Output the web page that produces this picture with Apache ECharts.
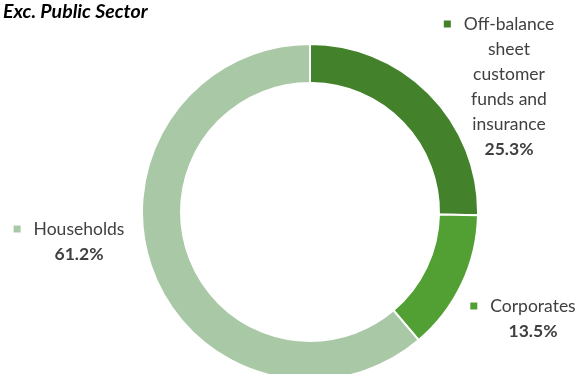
<html>
<head>
  <meta charset="utf-8">
  <script src="https://cdn.jsdelivr.net/npm/echarts@6/dist/echarts.min.js"></script>
  <style>
    html, body { margin: 0; width: 100%; height: 100%; background: #fff; }
    #chart { width: 580px; height: 374px; }
  </style>
</head>
<body>
  <div id="chart"></div>
  <script>
    var titleText = 'Exc. Public Sector';
    var names = ['Off-balance\nsheet\ncustomer\nfunds and\ninsurance', 'Corporates', 'Households'];
    var shares = [25.3, 13.5, 61.2];
    var colors = ['#43822a', '#52a033', '#a9c8a5'];

    // label block centres (layout only)
    var labelPos = [[509, 86.5], [533, 318.5], [79, 241.5]];

    var rich = {
      t: { fontSize: 17.5, lineHeight: 25, color: '#404040', fontFamily: 'Lato' },
      b: { fontSize: 17.5, lineHeight: 25, color: '#404040', fontWeight: 'bold', fontFamily: 'Lato' },
      g: { width: 13, height: 8 },
      g2: { width: 20, height: 8 }
    };
    colors.forEach(function (c, i) {
      rich['sq' + i] = { width: 7, height: 7, backgroundColor: c, verticalAlign: 'middle' };
    });

    var myChart = echarts.init(document.getElementById('chart'));
    var option = {
      animation: false,
      title: {
        text: titleText,
        left: -2, top: -3,
        textStyle: { fontSize: 19.5, fontWeight: 'bold', fontStyle: 'italic', color: '#000', fontFamily: 'Lato' }
      },
      series: [{
        type: 'pie',
        center: [310, 212],
        radius: [129, 168],
        startAngle: 90,
        clockwise: true,
        itemStyle: { borderColor: '#fff', borderWidth: 2 },
        label: {
          show: true,
          position: 'outside',
          align: 'center',
          overflow: 'none',
          width: 200,
          formatter: function (p) {
            var lines = p.name.split('\n');
            var out = '{sq' + p.dataIndex + '|}{g|}{t|' + lines[0] + '}{g2|}';
            for (var i = 1; i < lines.length; i++) out += '\n{t|' + lines[i] + '}';
            out += '\n{b|' + p.value.toFixed(1) + '%}';
            return out;
          },
          rich: rich
        },
        labelLine: { show: false },
        labelLayout: function (params) {
          var pos = labelPos[params.dataIndex];
          return { x: pos[0], y: pos[1], align: 'center', verticalAlign: 'middle' };
        },
        data: names.map(function (n, i) {
          return { name: n, value: shares[i], itemStyle: { color: colors[i] } };
        })
      }]
    };
    myChart.setOption(option);
  </script>
</body>
</html>
